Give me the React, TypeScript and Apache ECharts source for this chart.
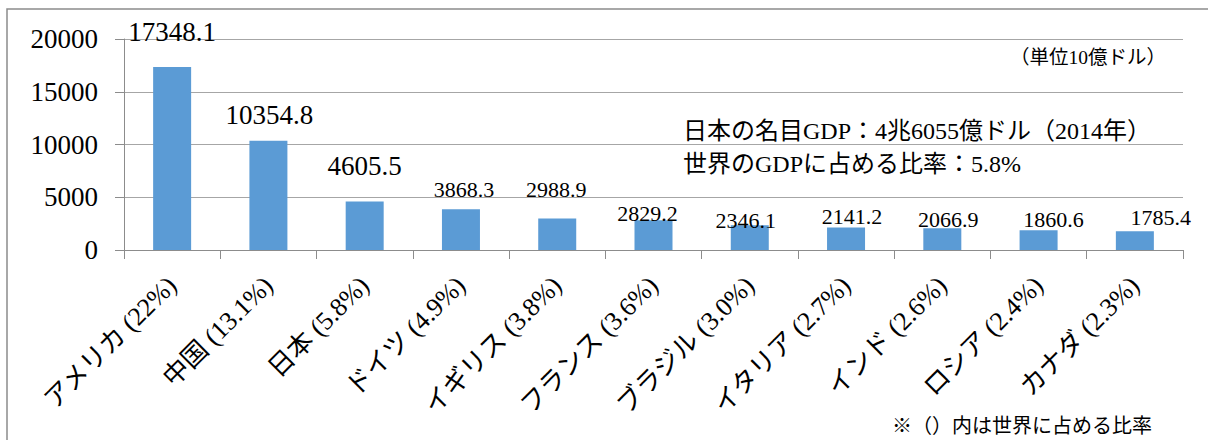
import React, { useEffect, useRef } from "react";
import * as echarts from "echarts";

// Nominal GDP 2014, unit: 10 billion USD
const countries = [
  "アメリカ",
  "中国",
  "日本",
  "ドイツ",
  "イギリス",
  "フランス",
  "ブラジル",
  "イタリア",
  "インド",
  "ロシア",
  "カナダ",
];
const worldShares = ["22%", "13.1%", "5.8%", "4.9%", "3.8%", "3.6%", "3.0%", "2.7%", "2.6%", "2.4%", "2.3%"];
const gdpValues = [17348.1, 10354.8, 4605.5, 3868.3, 2988.9, 2829.2, 2346.1, 2141.2, 2066.9, 1860.6, 1785.4];
const yTicks = { min: 0, max: 20000, interval: 5000 };

const unitNote = "（単位10億ドル）";
const japanNote1 = "日本の名目GDP：4兆6055億ドル（2014年）";
const japanNote2 = "世界のGDPに占める比率：5.8%";
const footNote = "※（）内は世界に占める比率";

// label placement tweaks per bar: [dx, dy from bar top, font size]
const labelStyles: [number, number, number][] = [
  [0, -35, 27],
  [1, -26, 27],
  [0, -35, 27],
  [3, -20, 22],
  [-1, -29, 22],
  [-6, -7, 22],
  [-4, -5, 22],
  [6, -11, 22],
  [6, -9, 22],
  [15, -11, 22],
  [26, -14, 22],
];

const FONT = "Liberation Serif, Noto Sans CJK JP, serif";

export default function App() {
  const ref = useRef<HTMLDivElement>(null);

  useEffect(() => {
    document.body.style.margin = "0";
    if (!ref.current) return;
    const chart = echarts.init(ref.current, undefined, { renderer: "svg" });
    const categories = countries.map((c, i) => `${c} (${worldShares[i]})`);

    chart.setOption({
      animation: false,
      textStyle: { fontFamily: FONT },
      grid: { left: 124, right: 25, top: 39, bottom: 190 },
      xAxis: {
        type: "category",
        data: categories,
        axisLine: { lineStyle: { color: "#8c8c8c", width: 1 } },
        axisTick: { show: true, length: 9, alignWithLabel: false, lineStyle: { color: "#8c8c8c" } },
        axisLabel: {
          interval: 0,
          rotate: 45,
          margin: 31,
          fontSize: 26,
          color: "#000",
          fontFamily: FONT,
        },
      },
      yAxis: {
        type: "value",
        min: yTicks.min,
        max: yTicks.max,
        interval: yTicks.interval,
        axisLine: { show: true, lineStyle: { color: "#8c8c8c", width: 1 } },
        axisTick: { show: true, length: 9, lineStyle: { color: "#8c8c8c" } },
        splitLine: { lineStyle: { color: "#a6a6a6", width: 1 } },
        axisLabel: {
          margin: 26,
          fontSize: 27,
          color: "#000",
          fontFamily: FONT,
          formatter: (v: number) => String(v),
        },
      },
      series: [
        {
          type: "bar",
          barWidth: 38,
          itemStyle: { color: "#5B9BD5" },
          data: gdpValues.map((v, i) => ({
            value: v,
            label: {
              show: true,
              position: "top",
              distance: 0,
              verticalAlign: "middle",
              offset: [labelStyles[i][0], labelStyles[i][1]],
              fontSize: labelStyles[i][2],
              color: "#000",
              fontFamily: FONT,
              formatter: (p: any) => String(p.value),
            },
          })),
        },
      ],
      graphic: [
        {
          type: "rect",
          shape: { x: 7, y: 9, width: 1300, height: 500 },
          style: { fill: "none", stroke: "#8c8c8c", lineWidth: 1.5 },
          silent: true,
        },
        {
          type: "text",
          x: 1010,
          y: 57,
          style: { text: unitNote, fontSize: 19.5, fontFamily: FONT, fill: "#000", verticalAlign: "middle" },
        },
        {
          type: "text",
          x: 683,
          y: 131,
          style: { text: japanNote1, fontSize: 24, fontFamily: FONT, fill: "#000", verticalAlign: "middle" },
        },
        {
          type: "text",
          x: 683,
          y: 164,
          style: { text: japanNote2, fontSize: 24, fontFamily: FONT, fill: "#000", verticalAlign: "middle" },
        },
        {
          type: "text",
          x: 892,
          y: 426,
          style: { text: footNote, fontSize: 20, fontFamily: FONT, fill: "#000", verticalAlign: "middle" },
        },
      ],
    });

    return () => chart.dispose();
  }, []);

  return <div ref={ref} style={{ width: 1208, height: 440 }} />;
}
